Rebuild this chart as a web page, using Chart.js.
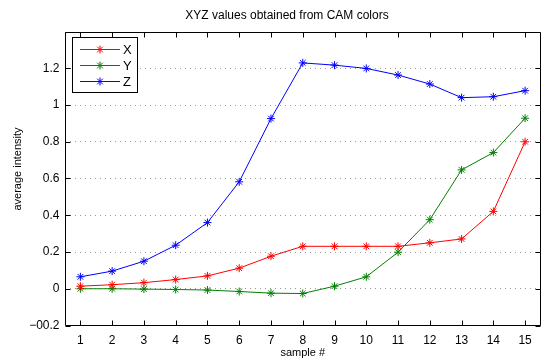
<!DOCTYPE html>
<html>
<head>
<meta charset="utf-8">
<script src="https://cdn.jsdelivr.net/npm/chart.js@4"></script>
<style>
  html, body { margin: 0; padding: 0; background: #fff; }
  #wrap { width: 546px; height: 360px; }
</style>
</head>
<body>
<div id="wrap"><canvas id="xyz-chart" width="546" height="360"></canvas></div>
<script>
// data
var sampleLabels = ['1', '2', '3', '4', '5', '6', '7', '8', '9', '10', '11', '12', '13', '14', '15'];
var xValues = [0.014, 0.022, 0.033, 0.05, 0.07, 0.112, 0.177, 0.231, 0.231, 0.231, 0.231, 0.25, 0.271, 0.421, 0.80];
var yValues = [0.0, 0.0, -0.002, -0.004, -0.007, -0.015, -0.024, -0.026, 0.014, 0.065, 0.199, 0.376, 0.647, 0.741, 0.928];
var zValues = [0.065, 0.096, 0.15, 0.237, 0.36, 0.582, 0.926, 1.229, 1.217, 1.199, 1.163, 1.114, 1.04, 1.045, 1.078];
var seriesNames = ['X', 'Y', 'Z'];
var seriesColors = ['#ff0000', '#008000', '#0000ff'];
var yTicks = [-0.2, 0, 0.2, 0.4, 0.6, 0.8, 1, 1.2, 1.4];

var chartTitle = 'XYZ values obtained from CAM colors';
var yTitle = 'average intensity';
var fontName = '"Liberation Sans", Arial, Helvetica, sans-serif';

function makeSet(i, vals) {
  return {
    label: seriesNames[i],
    data: vals,
    borderColor: seriesColors[i],
    backgroundColor: seriesColors[i],
    borderWidth: 1,
    pointStyle: 'star',
    pointRadius: 4,
    pointBorderWidth: 1,
    pointBorderColor: seriesColors[i],
    tension: 0,
    fill: false
  };
}

// box, inward ticks, titles and legend drawn matlab style
var matlabLook = {
  id: 'matlabLook',
  afterDraw: function(chart) {
    var ctx = chart.ctx;
    var a = chart.chartArea;
    var xs = chart.scales.x;
    var ys = chart.scales.y;
    ctx.save();
    ctx.strokeStyle = '#000';
    ctx.lineWidth = 1;
    ctx.beginPath();
    var L = Math.round(a.left) + 0.5, R = Math.round(a.right) - 0.5;
    var T = Math.round(a.top) + 0.5, B = Math.round(a.bottom) - 0.5;
    ctx.rect(L, T, R - L, B - T);
    for (var i = 0; i < sampleLabels.length; i++) {
      var px = Math.round(xs.getPixelForTick(i)) + 0.5;
      ctx.moveTo(px, B); ctx.lineTo(px, B - 5);
      ctx.moveTo(px, T); ctx.lineTo(px, T + 5);
    }
    for (var j = 0; j < yTicks.length; j++) {
      var py = Math.round(ys.getPixelForValue(yTicks[j])) + 0.5;
      ctx.moveTo(L, py); ctx.lineTo(L + 5, py);
      ctx.moveTo(R, py); ctx.lineTo(R - 5, py);
    }
    ctx.stroke();

    // title
    ctx.fillStyle = '#000';
    ctx.font = '12px ' + fontName;
    ctx.textAlign = 'center';
    ctx.textBaseline = 'middle';
    ctx.fillText(chartTitle, 287, 16);

    // y axis title
    ctx.save();
    ctx.translate(18, 169);
    ctx.rotate(-Math.PI / 2);
    ctx.font = '11px ' + fontName;
    ctx.fillText(yTitle, 0, 0);
    ctx.restore();

    // legend box
    ctx.fillStyle = '#fff';
    ctx.fillRect(72, 37, 66, 56);
    ctx.strokeStyle = '#000';
    ctx.strokeRect(72.5, 37.5, 65, 55);
    var rows = [49.5, 65.5, 81.5];
    ctx.font = '13px ' + fontName;
    ctx.textAlign = 'left';
    for (var k = 0; k < 3; k++) {
      ctx.strokeStyle = seriesColors[k];
      ctx.beginPath();
      ctx.moveTo(80, rows[k]); ctx.lineTo(120, rows[k]);
      ctx.stroke();
      Chart.helpers.drawPoint(ctx, { pointStyle: 'star', radius: 4, borderWidth: 1 }, 100, rows[k]);
      ctx.fillStyle = '#000';
      ctx.fillText(seriesNames[k], 123, rows[k] + 1);
    }
    ctx.restore();
  }
};

var ctx = document.getElementById('xyz-chart');
var xyzChart = new Chart(ctx, {
  type: 'line',
  data: {
    labels: sampleLabels,
    datasets: [makeSet(0, xValues), makeSet(1, yValues), makeSet(2, zValues)]
  },
  options: {
    responsive: false,
    animation: false,
    layout: { padding: { left: 0, right: 1.5, top: 31.5, bottom: 0 } },
    plugins: {
      legend: { display: false },
      title: { display: false },
      tooltip: { enabled: false }
    },
    scales: {
      x: {
        type: 'category',
        offset: true,
        grid: { display: false, drawTicks: false },
        border: { display: false },
        ticks: { color: '#000', font: { family: fontName, size: 12 }, padding: 8, maxRotation: 0, autoSkip: false },
        title: { display: true, text: 'sample #', color: '#000', font: { family: fontName, size: 11, lineHeight: 1 }, padding: { top: 0, bottom: 1.5 } },
        afterFit: function(scale) { scale.height = 34.5; }
      },
      y: {
        min: -0.2,
        max: 1.4,
        afterBuildTicks: function(scale) {
          scale.ticks = yTicks.map(function(v) { return { value: v }; });
        },
        grid: {
          drawTicks: false,
          tickLength: 0,
          lineWidth: 1,
          color: function(c) {
            var v = c.tick ? c.tick.value : 0;
            if (Math.abs(v - 1.4) < 1e-6 || Math.abs(v + 0.2) < 1e-6) return 'rgba(0,0,0,0)';
            return '#9a9a9a';
          }
        },
        border: { display: false, dash: [1, 4] },
        ticks: {
          color: '#000',
          font: { family: fontName, size: 12 },
          padding: 5,
          callback: function(v) {
            if (Math.abs(v - 1.4) < 1e-6) return '';
            var r = Math.round(v * 10) / 10;
            return String(r).replace('-', '\u22120');
          }
        },
        afterFit: function(scale) { scale.width = 64.5; }
      }
    }
  },
  plugins: [matlabLook]
});
</script>
</body>
</html>
